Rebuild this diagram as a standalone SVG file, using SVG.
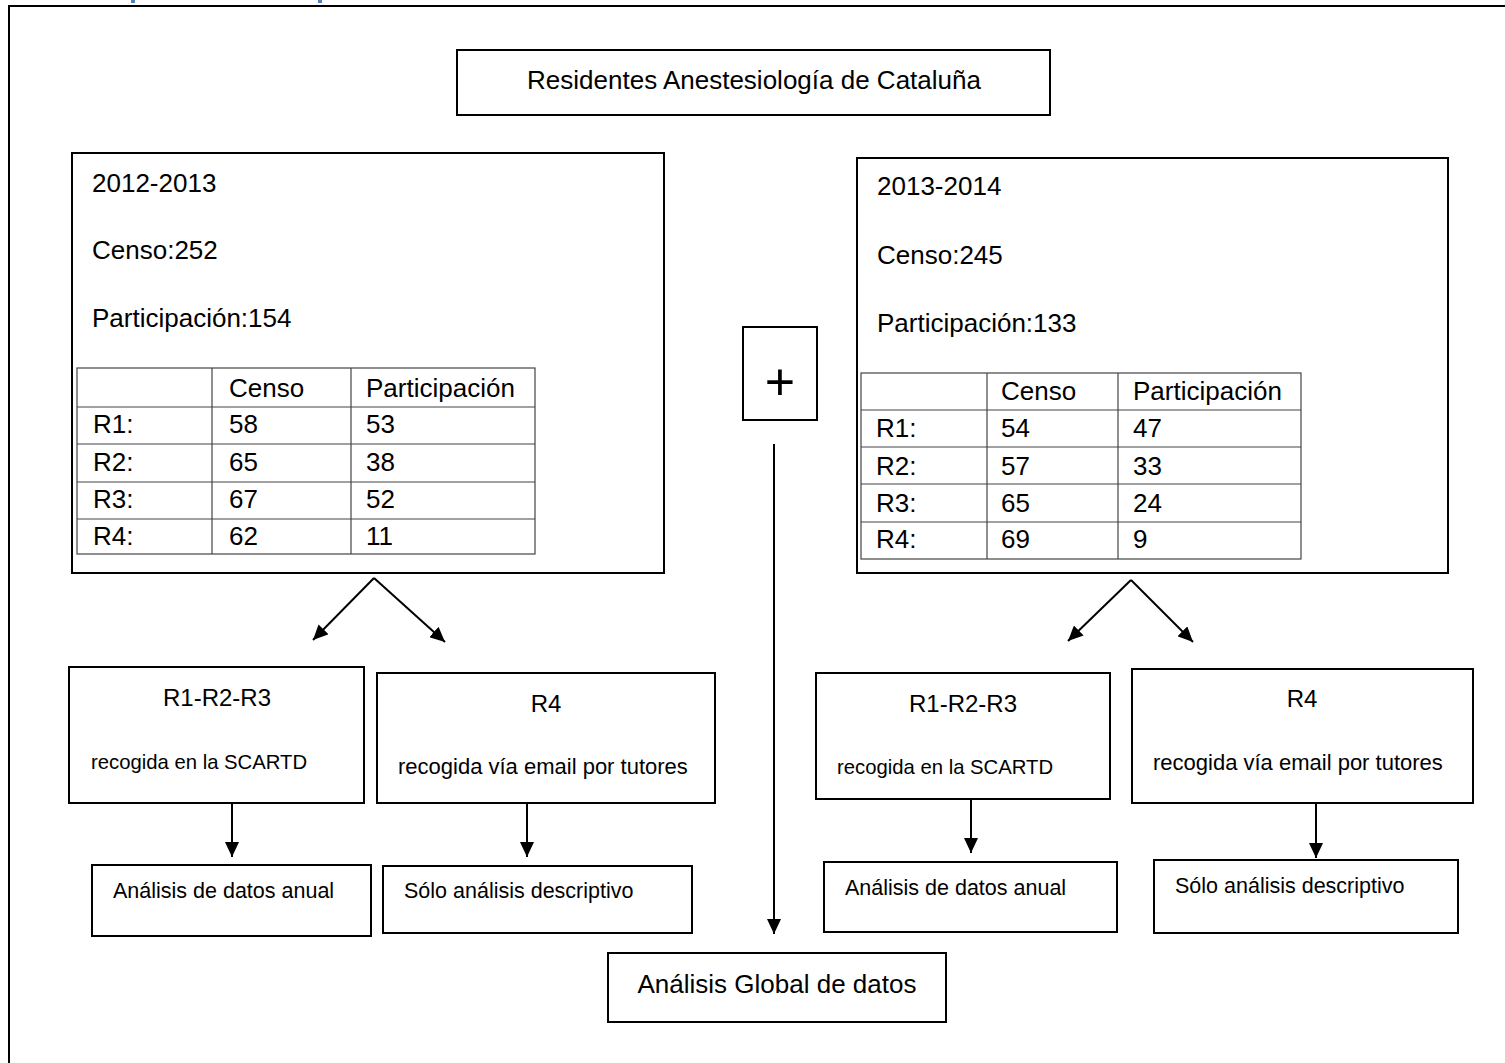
<svg xmlns="http://www.w3.org/2000/svg" width="1505" height="1063" viewBox="0 0 1505 1063">
<defs>
<style>
text{font-family:"Liberation Sans",Arial,sans-serif;fill:#000}
.box{fill:#fff;stroke:#000;stroke-width:2}
.tbl{fill:none;stroke:#444;stroke-width:1.2}
.t26{font-size:26px}
.t24{font-size:24px}
.t22{font-size:22px}
.t21{font-size:21.5px}
.t20{font-size:20.3px}
.mid{text-anchor:middle}
.con{stroke:#000;stroke-width:2;fill:none}
</style>
<marker id="ah" markerUnits="userSpaceOnUse" markerWidth="16" markerHeight="14" refX="15" refY="7" orient="auto">
<path d="M0,0 L15,7 L0,14 z" fill="#000"/>
</marker>
</defs>
<rect width="1505" height="1063" fill="#fff"/>
<rect x="131" y="0" width="4" height="3" fill="#4f81bd"/>
<rect x="318" y="0" width="4" height="3" fill="#4f81bd"/>
<rect x="9" y="6" width="1520" height="1080" fill="none" stroke="#000" stroke-width="2"/>

<g id="title">
<rect class="box" x="457" y="50" width="593" height="65"/>
<text class="t26 mid" x="754" y="89">Residentes Anestesiología de Cataluña</text>
</g>

<g id="year2012">
<rect class="box" x="72" y="153" width="592" height="420"/>
<text class="t26" x="92" y="192">2012-2013</text>
<text class="t26" x="92" y="259">Censo:252</text>
<text class="t26" x="92" y="327">Participación:154</text>
<g class="tbl">
<rect x="77" y="368" width="458" height="186"/>
<line x1="77" y1="407" x2="535" y2="407"/>
<line x1="77" y1="444" x2="535" y2="444"/>
<line x1="77" y1="482" x2="535" y2="482"/>
<line x1="77" y1="519" x2="535" y2="519"/>
<line x1="212" y1="368" x2="212" y2="554"/>
<line x1="351" y1="368" x2="351" y2="554"/>
</g>
<text class="t26" x="229" y="397">Censo</text>
<text class="t26" x="366" y="397">Participación</text>
<text class="t26" x="93" y="433">R1:</text><text class="t26" x="229" y="433">58</text><text class="t26" x="366" y="433">53</text>
<text class="t26" x="93" y="471">R2:</text><text class="t26" x="229" y="471">65</text><text class="t26" x="366" y="471">38</text>
<text class="t26" x="93" y="508">R3:</text><text class="t26" x="229" y="508">67</text><text class="t26" x="366" y="508">52</text>
<text class="t26" x="93" y="545">R4:</text><text class="t26" x="229" y="545">62</text><text class="t26" x="366" y="545">11</text>
</g>

<g id="year2013">
<rect class="box" x="857" y="158" width="591" height="415"/>
<text class="t26" x="877" y="195">2013-2014</text>
<text class="t26" x="877" y="264">Censo:245</text>
<text class="t26" x="877" y="332">Participación:133</text>
<g class="tbl">
<rect x="861" y="373" width="440" height="186"/>
<line x1="861" y1="410" x2="1301" y2="410"/>
<line x1="861" y1="447" x2="1301" y2="447"/>
<line x1="861" y1="484" x2="1301" y2="484"/>
<line x1="861" y1="522" x2="1301" y2="522"/>
<line x1="987" y1="373" x2="987" y2="559"/>
<line x1="1118" y1="373" x2="1118" y2="559"/>
</g>
<text class="t26" x="1001" y="400">Censo</text>
<text class="t26" x="1133" y="400">Participación</text>
<text class="t26" x="876" y="437">R1:</text><text class="t26" x="1001" y="437">54</text><text class="t26" x="1133" y="437">47</text>
<text class="t26" x="876" y="475">R2:</text><text class="t26" x="1001" y="475">57</text><text class="t26" x="1133" y="475">33</text>
<text class="t26" x="876" y="512">R3:</text><text class="t26" x="1001" y="512">65</text><text class="t26" x="1133" y="512">24</text>
<text class="t26" x="876" y="548">R4:</text><text class="t26" x="1001" y="548">69</text><text class="t26" x="1133" y="548">9</text>
</g>

<g id="plus">
<rect class="box" x="743" y="327" width="74" height="93"/>
<text class="mid" x="780" y="400" style="font-size:52px">+</text>
</g>

<g id="l_r123">
<rect class="box" x="69" y="667" width="295" height="136"/>
<text class="t24 mid" x="217" y="706">R1-R2-R3</text>
<text class="t20" x="91" y="769">recogida en la SCARTD</text>
</g>
<g id="l_r4">
<rect class="box" x="377" y="673" width="338" height="130"/>
<text class="t24 mid" x="546" y="712">R4</text>
<text class="t22" x="398" y="774">recogida vía email por tutores</text>
</g>
<g id="l_anual">
<rect class="box" x="92" y="865" width="279" height="71"/>
<text class="t21" x="113" y="898">Análisis de datos anual</text>
</g>
<g id="l_desc">
<rect class="box" x="383" y="866" width="309" height="67"/>
<text class="t21" x="404" y="898">Sólo análisis descriptivo</text>
</g>

<g id="r_r123">
<rect class="box" x="816" y="673" width="294" height="126"/>
<text class="t24 mid" x="963" y="712">R1-R2-R3</text>
<text class="t20" x="837" y="774">recogida en la SCARTD</text>
</g>
<g id="r_r4">
<rect class="box" x="1132" y="669" width="341" height="134"/>
<text class="t24 mid" x="1302" y="707">R4</text>
<text class="t22" x="1153" y="770">recogida vía email por tutores</text>
</g>
<g id="r_anual">
<rect class="box" x="824" y="862" width="293" height="70"/>
<text class="t21" x="845" y="895">Análisis de datos anual</text>
</g>
<g id="r_desc">
<rect class="box" x="1154" y="860" width="304" height="73"/>
<text class="t21" x="1175" y="893">Sólo análisis descriptivo</text>
</g>

<g id="global">
<rect class="box" x="608" y="953" width="338" height="69"/>
<text class="t26 mid" x="777" y="993">Análisis Global de datos</text>
</g>

<g id="connectors" class="con">
<line x1="374" y1="578" x2="313" y2="640" marker-end="url(#ah)"/>
<line x1="374" y1="578" x2="445" y2="642" marker-end="url(#ah)"/>
<line x1="1131" y1="580" x2="1068" y2="641" marker-end="url(#ah)"/>
<line x1="1131" y1="580" x2="1193" y2="642" marker-end="url(#ah)"/>
<line x1="232" y1="803" x2="232" y2="857" marker-end="url(#ah)"/>
<line x1="527" y1="803" x2="527" y2="857" marker-end="url(#ah)"/>
<line x1="971" y1="799" x2="971" y2="853" marker-end="url(#ah)"/>
<line x1="1316" y1="803" x2="1316" y2="858" marker-end="url(#ah)"/>
<line x1="774" y1="444" x2="774" y2="934" marker-end="url(#ah)"/>
</g>
</svg>
